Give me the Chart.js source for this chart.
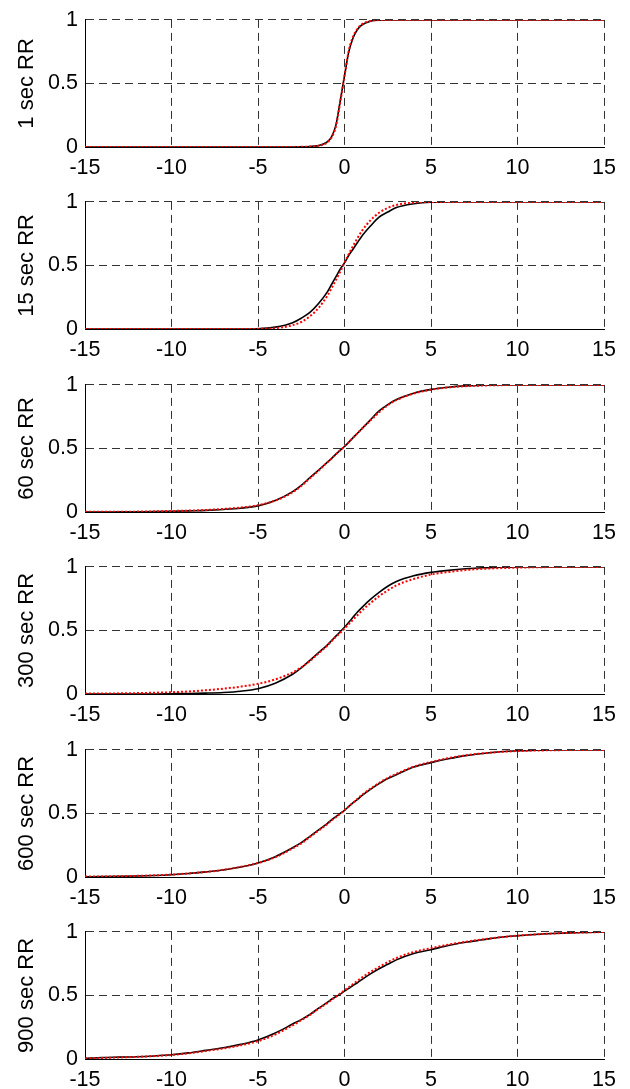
<!DOCTYPE html>
<html>
<head>
<meta charset="utf-8">
<script src="https://cdn.jsdelivr.net/npm/chart.js@4.4.1/dist/chart.umd.min.js"></script>
<style>
  html, body { margin: 0; padding: 0; background: #fff; }
  #wrap { position: relative; width: 630px; height: 1089px; overflow: hidden; }
  #wrap canvas { position: absolute; left: 0; }
</style>
</head>
<body>
<div id="wrap"></div>
<script>
// x positions shared by every panel
const xValues = [-15,-14,-13,-12,-11,-10,-9,-8,-7,-6,-5,-4,-3,-2.5,-2,-1.5,-1,-0.75,-0.5,-0.25,
  0,0.25,0.5,0.75,1,1.5,2,2.5,3,4,5,6,7,8,9,10,11,12,13,14,15];

const panelLabels = ["1 sec RR", "15 sec RR", "60 sec RR", "300 sec RR", "600 sec RR", "900 sec RR"];
const xTicks = [-15, -10, -5, 0, 5, 10, 15];
const yTicks = [0, 0.5, 1];

// black = empirical, red = fitted
const sec1Emp = [0,0,0,0,0,0,0,0,0,0,0,0,0,0.001,0.004,0.012,0.04,0.08,0.17,0.36,
  0.56,0.75,0.86,0.925,0.96,0.99,0.998,1,1,1,1,1,1,1,1,1,1,1,1,1,1];
const sec1Fit = [0,0,0,0,0,0,0,0,0,0,0,0,0,0.001,0.003,0.01,0.035,0.075,0.16,0.35,
  0.56,0.76,0.87,0.93,0.965,0.992,0.999,1,1,1,1,1,1,1,1,1,1,1,1,1,1];

const sec15Emp = [0,0,0,0,0,0,0,0,0,0,0.002,0.015,0.05,0.085,0.13,0.2,0.29,0.35,0.41,0.47,
  0.52,0.58,0.63,0.68,0.73,0.81,0.88,0.92,0.955,0.985,0.998,1,1,1,1,1,1,1,1,1,1];
const sec15Fit = [0,0,0,0,0,0,0,0,0,0,0.001,0.006,0.03,0.055,0.1,0.165,0.26,0.32,0.385,0.45,
  0.52,0.59,0.655,0.715,0.77,0.855,0.915,0.953,0.976,0.995,0.999,1,1,1,1,1,1,1,1,1,1];

const sec60Emp = [0,0,0.001,0.002,0.003,0.005,0.009,0.013,0.02,0.03,0.048,0.09,0.16,0.21,0.27,0.33,0.39,0.42,0.455,0.485,
  0.515,0.55,0.585,0.62,0.655,0.725,0.795,0.845,0.885,0.935,0.965,0.982,0.992,0.997,0.999,1,1,1,1,1,1];
const sec60Fit = [0.001,0.001,0.002,0.003,0.005,0.008,0.011,0.016,0.024,0.035,0.053,0.09,0.155,0.205,0.265,0.325,0.39,0.42,0.455,0.485,
  0.515,0.55,0.585,0.62,0.655,0.72,0.785,0.84,0.88,0.932,0.962,0.98,0.99,0.995,0.998,0.999,1,1,1,1,1];

const sec300Emp = [0,0,0,0,0,0.002,0.004,0.007,0.012,0.022,0.042,0.085,0.155,0.205,0.265,0.325,0.385,0.42,0.455,0.49,
  0.525,0.565,0.605,0.645,0.68,0.745,0.80,0.848,0.885,0.93,0.957,0.973,0.985,0.993,0.997,1,1,1,1,1,1];
const sec300Fit = [0.003,0.004,0.005,0.007,0.01,0.014,0.02,0.03,0.042,0.058,0.08,0.115,0.17,0.21,0.26,0.32,0.38,0.415,0.45,0.48,
  0.515,0.55,0.585,0.62,0.655,0.715,0.77,0.815,0.855,0.905,0.94,0.96,0.975,0.985,0.99,0.994,0.997,0.999,1,1,1];

const sec600Emp = [0.002,0.003,0.005,0.008,0.012,0.018,0.027,0.04,0.055,0.078,0.11,0.16,0.23,0.27,0.32,0.37,0.42,0.45,0.475,0.50,
  0.525,0.555,0.585,0.61,0.64,0.69,0.735,0.775,0.805,0.865,0.90,0.93,0.955,0.972,0.985,0.993,0.997,1,1,1,1];
const sec600Fit = [0.003,0.004,0.006,0.009,0.013,0.019,0.028,0.04,0.057,0.08,0.11,0.155,0.225,0.265,0.315,0.365,0.415,0.445,0.47,0.495,
  0.525,0.555,0.585,0.615,0.645,0.695,0.74,0.78,0.812,0.868,0.905,0.935,0.957,0.973,0.984,0.991,0.995,0.997,0.999,1,1];

const sec900Emp = [0.005,0.012,0.015,0.018,0.024,0.033,0.048,0.068,0.088,0.115,0.15,0.205,0.275,0.31,0.35,0.40,0.445,0.47,0.49,0.51,
  0.534,0.555,0.58,0.60,0.625,0.67,0.71,0.745,0.78,0.83,0.86,0.893,0.918,0.938,0.958,0.97,0.98,0.987,0.992,0.996,1];
const sec900Fit = [0.004,0.008,0.012,0.017,0.023,0.032,0.045,0.063,0.083,0.108,0.14,0.193,0.265,0.305,0.347,0.395,0.44,0.465,0.49,0.515,
  0.54,0.565,0.59,0.615,0.64,0.685,0.725,0.763,0.795,0.842,0.872,0.9,0.922,0.942,0.958,0.97,0.98,0.987,0.992,0.996,0.999];

const empSeries = [sec1Emp, sec15Emp, sec60Emp, sec300Emp, sec600Emp, sec900Emp];
const fitSeries = [sec1Fit, sec15Fit, sec60Fit, sec300Fit, sec600Fit, sec900Fit];

const FONT = "'Liberation Sans', Arial, sans-serif";
const wrap = document.getElementById("wrap");

function toPoints(arr) {
  return xValues.map((x, i) => ({ x: x, y: arr[i] }));
}

panelLabels.forEach((label, p) => {
  const canvas = document.createElement("canvas");
  canvas.width = 630;
  canvas.height = 182;
  canvas.style.top = Math.round(p * 182.4) + "px";
  wrap.appendChild(canvas);

  new Chart(canvas, {
    type: "line",
    data: {
      datasets: [
        {
          label: "fit",
          data: toPoints(fitSeries[p]),
          borderColor: "#ff0000",
          borderWidth: 2,
          borderDash: [2, 2],
          pointRadius: 0,
          cubicInterpolationMode: "monotone",
          order: 0
        },
        {
          label: "empirical",
          data: toPoints(empSeries[p]),
          borderColor: "#000000",
          borderWidth: 1.6,
          pointRadius: 0,
          cubicInterpolationMode: "monotone",
          order: 1
        }
      ]
    },
    options: {
      responsive: false,
      animation: false,
      devicePixelRatio: 1,
      layout: { padding: { top: 16, right: 26, left: 0, bottom: 0 } },
      plugins: { legend: { display: false }, tooltip: { enabled: false } },
      scales: {
        x: {
          type: "linear",
          min: -15,
          max: 15,
          afterBuildTicks: (s) => { s.ticks = xTicks.map(v => ({ value: v })); },
          afterFit: (s) => { s.height = 35; },
          ticks: { color: "#000", padding: 8, maxRotation: 0, font: { family: FONT, size: 21.5 },
            callback: (v) => String(v) },
          grid: { color: "rgba(0,0,0,0.8)", lineWidth: 1, drawTicks: false },
          border: { display: true, color: "#000", width: 1, dash: [8, 5] }
        },
        y: {
          type: "linear",
          min: 0,
          max: 1,
          afterBuildTicks: (s) => { s.ticks = yTicks.map(v => ({ value: v })); },
          afterFit: (s) => { s.width = 85; },
          ticks: { color: "#000", padding: 7, font: { family: FONT, size: 21.5 },
            callback: (v) => String(v) },
          grid: { color: "rgba(0,0,0,0.8)", lineWidth: 1, drawTicks: false },
          border: { display: true, color: "#000", width: 1, dash: [8, 5] },
          title: {
            display: true,
            text: label,
            color: "#000",
            padding: { top: 14, bottom: 0 },
            font: { family: FONT, size: 22 }
          }
        }
      }
    }
  });
});
</script>
</body>
</html>
